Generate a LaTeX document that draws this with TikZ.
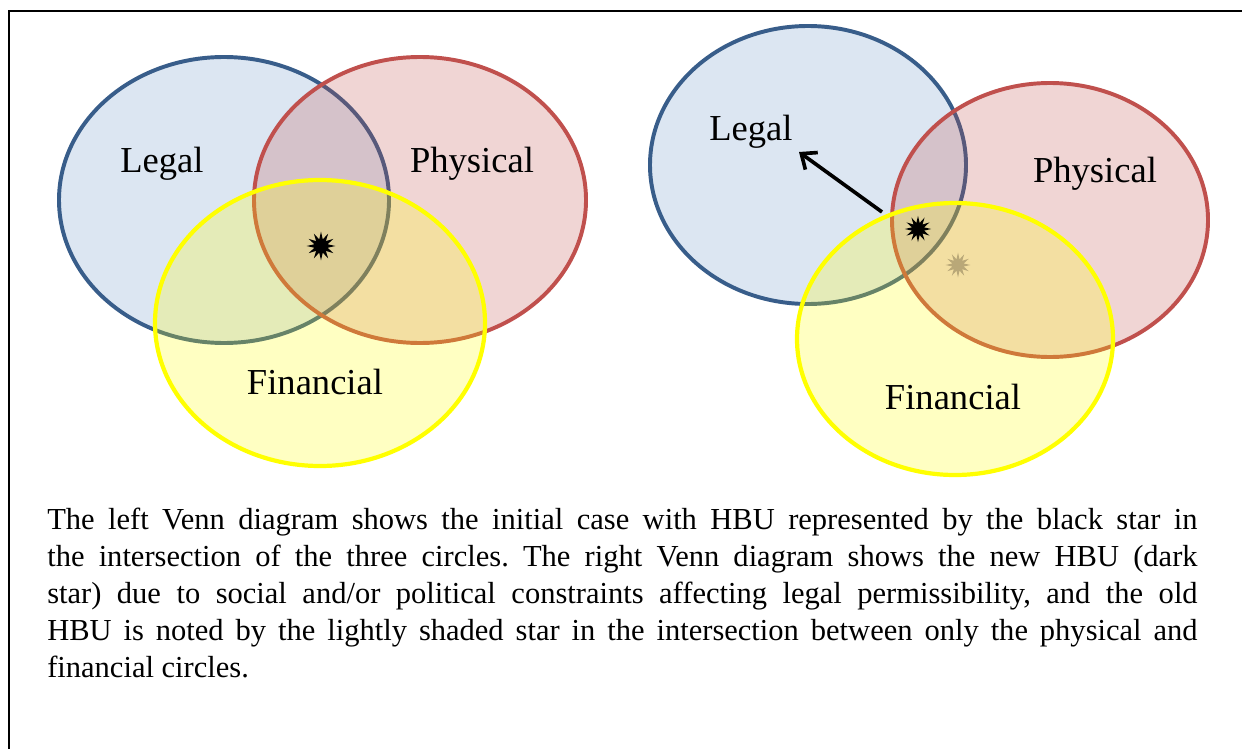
\documentclass[tikz,border=0pt]{standalone}
\usepackage{fontspec}
\setmainfont{Liberation Serif}
\usetikzlibrary{shapes.geometric, arrows.meta}

\definecolor{legalline}{RGB}{56,93,138}
\definecolor{legalfill}{RGB}{79,129,189}
\definecolor{physline}{RGB}{192,80,77}
\definecolor{physfill}{RGB}{192,80,77}
\definecolor{finline}{RGB}{255,255,0}
\definecolor{finfill}{RGB}{255,255,0}
\definecolor{oldhbu}{RGB}{185,168,120}

\tikzset{
  legal/.style={draw=legalline, fill=legalfill, fill opacity=0.2, line width=2.8pt},
  phys/.style={draw=physline, fill=physfill, fill opacity=0.24, line width=2.8pt},
  fin/.style={draw=finline, fill=finfill, fill opacity=0.24, line width=3pt},
  hbu/.style={star, star points=12, star point ratio=2.1, fill=black, inner sep=0pt, minimum size=0.72cm},
  lbl/.style={font=\fontsize{26}{30}\selectfont},
}

\begin{document}
\begin{tikzpicture}[x=0.025cm, y=-0.025cm]
\useasboundingbox (0,0) rectangle (1242,749);

% frame
\coordinate (fa) at (9,749);
\coordinate (fb) at (9,11);
\coordinate (fc) at (1242,11);
\draw[line width=2pt] (fa)--(fb)--(fc);

% left diagram
\coordinate (l1) at (224,200);
\coordinate (l2) at (420,200);
\coordinate (l3) at (320,323);
\draw[legal] (l1) ellipse (165 and 143);
\draw[phys] (l2) ellipse (166 and 143);
\draw[fin] (l3) ellipse (165 and 143);
\node[lbl] (legalA) at (162,164) {Legal};
\node[lbl] (physA) at (472,164) {Physical};
\node[lbl] (finA) at (315,382) {Financial};
\node[hbu] (hbuA) at (321,246) {};

% right diagram
\coordinate (r1) at (808,165);
\coordinate (r2) at (1050,220);
\coordinate (r3) at (955,339);
\draw[legal] (r1) ellipse (158 and 139);
\draw[phys] (r2) ellipse (158 and 137);
\draw[fin] (r3) ellipse (158 and 136);
\node[lbl] (legalB) at (751,132) {Legal};
\node[lbl] (physB) at (1095,174) {Physical};
\node[lbl] (finB) at (953,397) {Financial};
\node[hbu, minimum size=0.66cm] (hbuB) at (918,229) {};
\node[hbu, fill=oldhbu, minimum size=0.62cm] (oldB) at (958,265) {};

\coordinate (mv) at (882,212);
\coordinate (mt) at (799,152);
\draw[line width=2.6pt, -{Straight Barb[length=9pt, width=15pt]}] (mv)--(mt);

% caption
\node[anchor=north west, inner sep=0pt, text width=28.75cm, align=justify,
      font=\fontsize{21.7}{26.3}\selectfont\frenchspacing] (note) at (47,508)
{The left Venn diagram shows the initial case with HBU represented by the black star in\linebreak
the intersection of the three circles. The right Venn diagram shows the new HBU (dark\linebreak
star) due to social and/or political constraints affecting legal permissibility, and the old\linebreak
HBU is noted by the lightly shaded star in the intersection between only the physical and\linebreak
financial circles.};
\end{tikzpicture}
\end{document}
